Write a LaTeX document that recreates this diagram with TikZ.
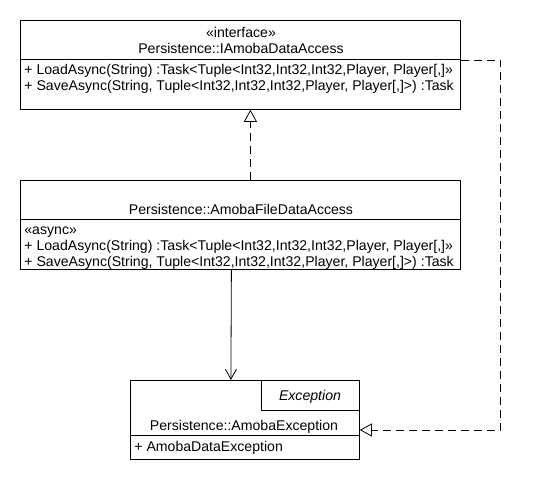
\documentclass[tikz,border=0pt]{standalone}
\usepackage{fontspec}
\setmainfont{Liberation Sans}
\usetikzlibrary{arrows.meta,positioning}

\tikzset{
  classbox/.style={draw, thick, rectangle, anchor=north west, inner sep=0pt},
  members/.style={anchor=base west, align=left, inner sep=0pt, font=\fontsize{14.1}{16}\selectfont},
  title/.style={anchor=base, align=center, inner sep=0pt, font=\fontsize{14.1}{16}\selectfont},
  realize/.style={thick, dash pattern=on 8pt off 5pt, -{Triangle[open, length=12pt, width=13pt]}},
  assoc/.style={thick, -{Straight Barb[length=10pt, width=11pt]}}
}

\begin{document}
\begin{tikzpicture}[x=1pt, y=-1pt, line width=0.8pt]
	\useasboundingbox (0,0) rectangle (540,480);
	% classes
	\node[classbox, minimum width=440pt, minimum height=89pt] (ifc) at (20,20) {};
	\node[classbox, minimum width=440pt, minimum height=89pt] (fda) at (20,180) {};
	\node[classbox, minimum width=229pt, minimum height=79pt] (exc) at (130,380) {};
	\node[classbox, minimum width=98pt, minimum height=30pt, anchor=north east] (tmpl) at (exc.north east) {};
	% compartments
	\draw[thick] ([yshift=-39pt]ifc.north west) -- ([yshift=-39pt]ifc.north east);
	\draw[thick] ([yshift=-39pt]fda.north west) -- ([yshift=-39pt]fda.north east);
	\draw[thick] ([yshift=-55pt]exc.north west) -- ([yshift=-55pt]exc.north east);
	% texts
	\node[title] (stereo) at (241,37) {«interface»};
	\node[title] (ifcname) at (241,53) {Persistence::IAmobaDataAccess};
	\node[members] (ifcload) at (24,74) {+ LoadAsync(String) :Task<Tuple<Int32,Int32,Int32,Player, Player[,]»};
	\node[members] (ifcsave) at (24,90) {+ SaveAsync(String, Tuple<Int32,Int32,Int32,Player, Player[,]>) :Task};
	\node[title] (fdaname) at (241,214) {Persistence::AmobaFileDataAccess};
	\node[members] (async) at (24,234) {«async»};
	\node[members] (fdaload) at (24,250) {+ LoadAsync(String) :Task<Tuple<Int32,Int32,Int32,Player, Player[,]»};
	\node[members] (fdasave) at (24,266) {+ SaveAsync(String, Tuple<Int32,Int32,Int32,Player, Player[,]>) :Task};
	\node[title, font=\fontsize{14.1}{16}\selectfont\itshape] (tmplname) at (310,400) {Exception};
	\node[title] (excname) at (244,430) {Persistence::AmobaException};
	\node[members] (excops) at (134,451) {+ AmobaDataException};
	% relations
	\draw[realize] ([xshift=10pt]fda.north) -- ([xshift=10pt]ifc.south);
	\draw[assoc] ([xshift=-9pt]fda.south) -- ([xshift=-14pt]exc.north);
	\draw[realize] ([yshift=-40pt]ifc.north east) -- ++(40,0) |- ([yshift=-50pt]exc.north east);
\end{tikzpicture}
\end{document}
